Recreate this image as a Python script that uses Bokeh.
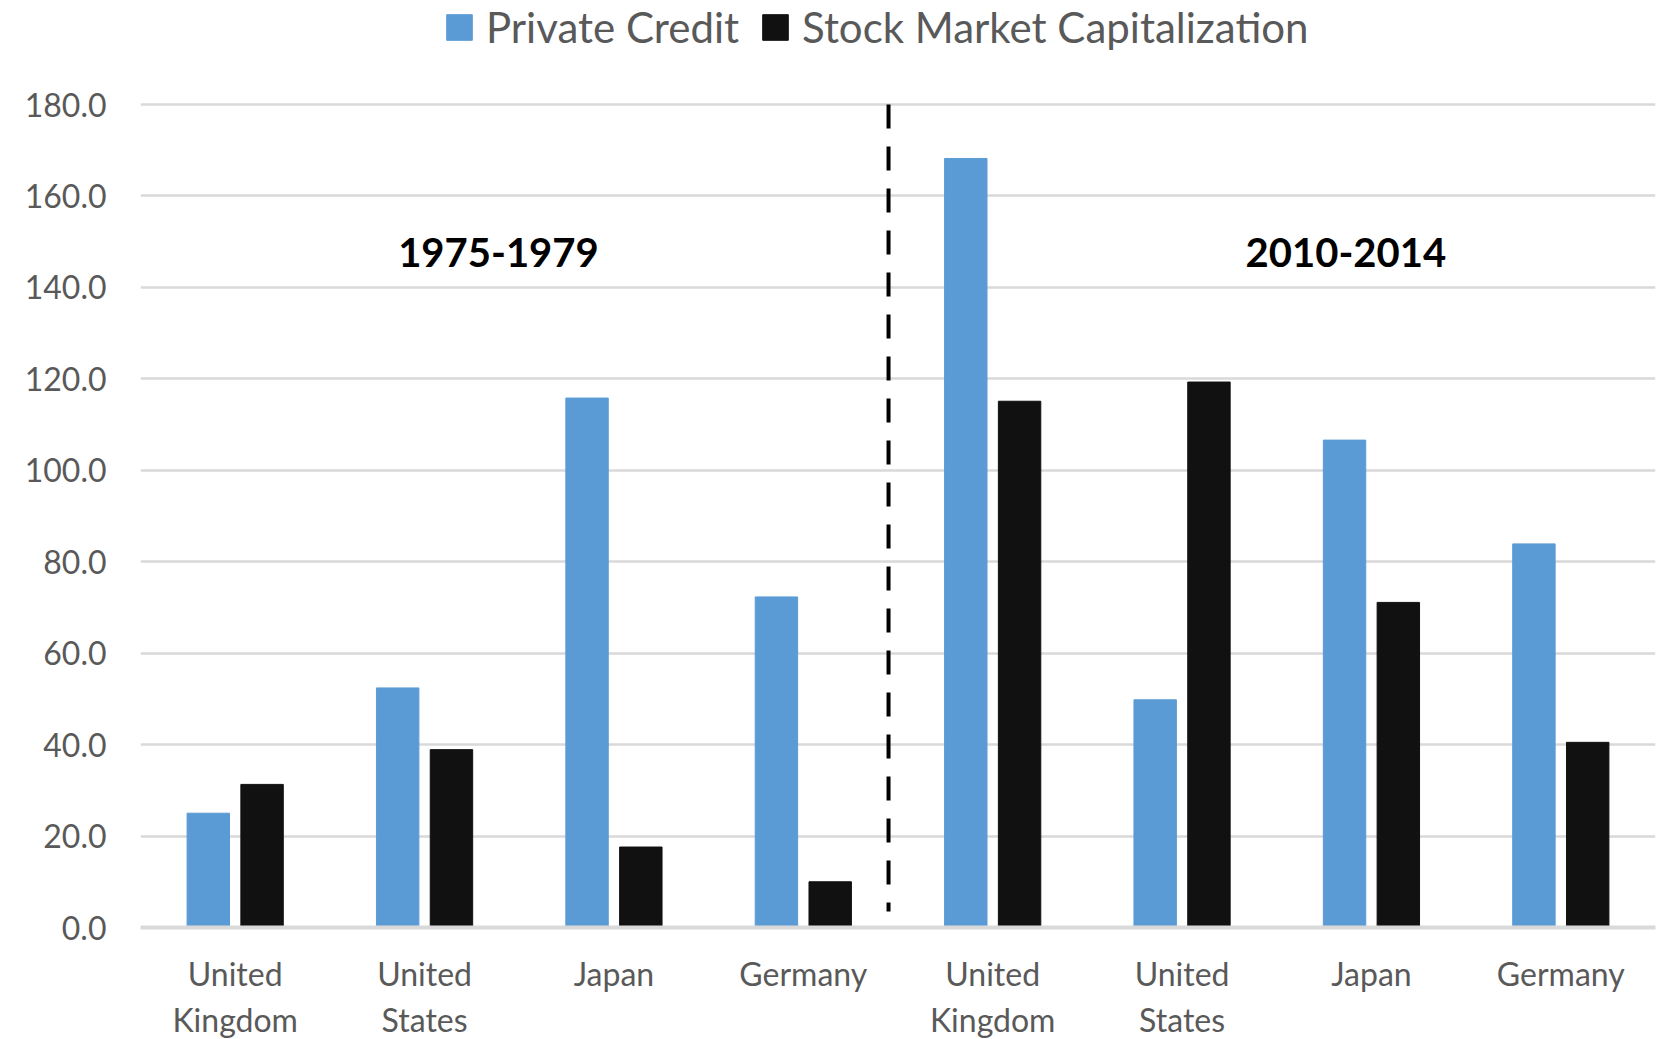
from bokeh.plotting import figure
from bokeh.models import (Range1d, FixedTicker, Legend, LegendItem, ColumnDataSource,
                          PrintfTickFormatter)
from bokeh.core.properties import value
from bokeh.embed import file_html
from bokeh.resources import INLINE

# ---- data ----
categories = ["United\nKingdom", "United\nStates", "Japan", "Germany",
              "United\nKingdom", "United\nStates", "Japan", "Germany"]
private_credit = [25.0, 52.4, 115.8, 72.3, 168.2, 49.8, 106.6, 83.9]
stock_market_cap = [31.3, 38.9, 17.6, 10.0, 115.1, 119.3, 71.1, 40.5]
series_names = ["Private Credit", "Stock Market Capitalization"]
period_labels = ["1975-1979", "2010-2014"]
period_x = [1.89, 6.365]
period_y = [147.6, 147.6]
y_ticks = [0, 20, 40, 60, 80, 100, 120, 140, 160, 180]
divider_x = 3.95
divider_top = 180.0
divider_bottom = 3.5

FONT = "Lato"
GREY = "#595959"
BLUE = "#5B9BD5"
BLACK = "#111111"

n = len(categories)
centers = [i + 0.5 for i in range(n)]
offset = 0.142
bar_w = 0.224

FRAME_W = 1515
FRAME_H = 927
Y_END = 202.75

src = ColumnDataSource(dict(
    x_pc=[c - offset for c in centers],
    x_smc=[c + offset for c in centers],
    pc=private_credit,
    smc=stock_market_cap,
))

p = figure(frame_width=FRAME_W, frame_height=FRAME_H, output_backend="svg",
           toolbar_location=None,
           x_range=Range1d(0, n), y_range=Range1d(0, Y_END),
           min_border_left=140, min_border_right=4, min_border_top=0,
           min_border_bottom=100)
p.outline_line_color = None
p.background_fill_color = "white"
p.border_fill_color = "white"

r_pc = p.vbar(x="x_pc", top="pc", bottom=0, width=bar_w, source=src,
              fill_color=BLUE, line_color=BLUE)
r_smc = p.vbar(x="x_smc", top="smc", bottom=0, width=bar_w, source=src,
               fill_color=BLACK, line_color=BLACK)

# divider
p.segment(x0=[divider_x], y0=[divider_top], x1=[divider_x], y1=[divider_bottom],
          line_color="black", line_width=4, line_dash="24 18")

# period labels
p.text(x=period_x, y=period_y, text=period_labels, text_align="center",
       text_baseline="middle", text_font=value(FONT), text_font_size="40px",
       text_font_style="bold", text_color="black")

# axes
p.xgrid.visible = False
p.ygrid.ticker = FixedTicker(ticks=y_ticks)
p.ygrid.grid_line_color = "#d9d9d9"
p.ygrid.grid_line_width = 2.5

p.yaxis.ticker = FixedTicker(ticks=y_ticks)
p.yaxis.formatter = PrintfTickFormatter(format="%.1f")
p.yaxis.axis_line_color = None
p.yaxis.major_tick_line_color = None
p.yaxis.minor_tick_line_color = None
p.yaxis.major_label_standoff = 28
p.yaxis.major_label_text_font = FONT
p.yaxis.major_label_text_font_size = "32px"
p.yaxis.major_label_text_color = GREY

p.xaxis.ticker = FixedTicker(ticks=centers)
p.xaxis.major_label_overrides = {c: lab for c, lab in zip(centers, categories)}
p.xaxis.axis_line_color = "#d9d9d9"
p.xaxis.axis_line_width = 4
p.xaxis.major_tick_line_color = None
p.xaxis.minor_tick_line_color = None
p.xaxis.major_label_standoff = 20
p.xaxis.major_label_text_font = FONT
p.xaxis.major_label_text_font_size = "32px"
p.xaxis.major_label_text_color = GREY

legend = Legend(items=[LegendItem(label=series_names[0], renderers=[r_pc]),
                       LegendItem(label=series_names[1], renderers=[r_smc])],
                orientation="horizontal", location=(303, FRAME_H - 52),
                border_line_color=None, background_fill_alpha=0,
                label_text_font=FONT, label_text_font_size="42px",
                label_text_color=GREY, glyph_width=32, glyph_height=32,
                spacing=20, label_standoff=11, padding=0, margin=0)
p.add_layout(legend)

open("out.html", "w").write(file_html(p, INLINE))
